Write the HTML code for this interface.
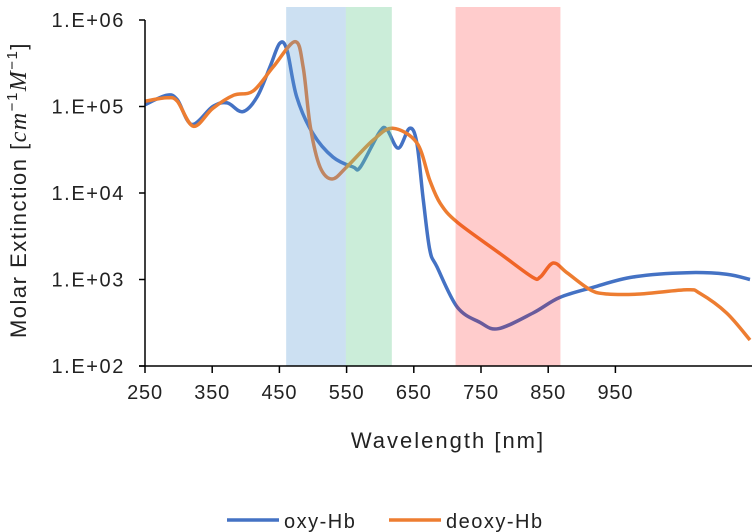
<!DOCTYPE html>
<html><head><meta charset="utf-8"><style>
body{margin:0;background:#fff;width:753px;height:532px;overflow:hidden}
svg{display:block;font-family:"Liberation Sans","Noto Sans CJK JP",sans-serif}
</style></head><body>
<svg id="chart" width="753" height="532">
<g id="bands"></g>
<g id="lines"></g>
<g id="overlay"></g>
<g id="axes"></g>
</svg>
<script>
const wlOxy=[250,277,290,308,334,352,371,389,405,417,426,438,458,483,508,517,541,550,564,578,587,595,603,612,637,665,688,731,764,805,855,922,971,1000];
const valOxy=[105000,135000,120000,62000,100000,110000,87000,129000,288000,537000,447000,129000,49000,26000,20000,20000,51000,54000,33000,56000,38000,8300,2200,1400,480,320,270,410,620,810,1070,1200,1150,1000];
const wlDeoxy=[250,277,290,310,334,360,384,409,436,446,455,467,482,500,533,557,587,603,616,637,690,730,740,756,773,802,823,864,922,938,971,1000];
const valDeoxy=[115000,126000,115000,59000,95000,135000,151000,288000,562000,288000,58000,20000,14500,20000,41000,56000,38000,14000,7600,4600,2000,1070,1070,1550,1200,760,680,680,760,690,410,200];
const bandStart=[425,499,635];
const bandEnd=[499,556,765];
const tickLabels=["250","350","450","550","650","750","850","950"];
const yTickLabels=["1.E+06","1.E+05","1.E+04","1.E+03","1.E+02"];

const NS="http://www.w3.org/2000/svg";
const X0=145,X1=750,Y0=20,Y1=366;
function xs(w){return X0+(w-250)/750*(X1-X0);}
function ys(v){return Y0+(6-Math.log10(v))/4*(Y1-Y0);}
function mk(tag,attrs,parent){const e=document.createElementNS(NS,tag);for(const k in attrs)e.setAttribute(k,attrs[k]);parent.appendChild(e);return e;}
const axes=document.getElementById('axes');
const overlay=document.getElementById('overlay');
const lines=document.getElementById('lines');

function pathFor(wl,vals){
  const p=wl.map((w,i)=>[xs(w),ys(vals[i])]);
  let d="M"+p[0][0].toFixed(1)+","+p[0][1].toFixed(1);
  for(let i=0;i<p.length-1;i++){
    const a=p[Math.max(0,i-1)],b=p[i],c=p[i+1],e=p[Math.min(p.length-1,i+2)];
    const c1=[b[0]+(c[0]-a[0])/6,b[1]+(c[1]-a[1])/6],c2=[c[0]-(e[0]-b[0])/6,c[1]-(e[1]-b[1])/6];
    d+=" C"+c1[0].toFixed(1)+","+c1[1].toFixed(1)+" "+c2[0].toFixed(1)+","+c2[1].toFixed(1)+" "+c[0].toFixed(1)+","+c[1].toFixed(1);
  }
  return d;
}
const pOxy=mk('path',{d:pathFor(wlOxy,valOxy),fill:'none',stroke:'#4472C4','stroke-width':3.5,'stroke-linejoin':'round'},lines);


const pDe=mk('path',{d:pathFor(wlDeoxy,valDeoxy),fill:'none',stroke:'#ED7D31','stroke-width':3.5,'stroke-linejoin':'round'},lines);



const bandColors=['rgba(91,155,213,0.31)','rgba(112,204,150,0.36)','rgba(255,0,0,0.2)'];
const bandNames=['blue-band','green-band','red-band'];
bandStart.forEach((s,i)=>{
  const r=mk('rect',{x:xs(s),y:7,width:xs(bandEnd[i])-xs(s),height:Y1-7,fill:bandColors[i]},overlay);
  
  
});

mk('line',{x1:X0,y1:Y0,x2:X0,y2:Y1,stroke:'#000','stroke-width':1.5},axes);
mk('line',{x1:X0-6,y1:Y1,x2:X1+2,y2:Y1,stroke:'#000','stroke-width':1.5},axes);
yTickLabels.forEach((t,i)=>{
  const y=Y0+i*(Y1-Y0)/4;
  mk('line',{x1:X0-6,y1:y,x2:X0,y2:y,stroke:'#000','stroke-width':1.5},axes);
  const tx=mk('text',{x:125,y:y+7,'text-anchor':'end','font-size':20,'letter-spacing':1.6,fill:'#222'},axes);
  tx.textContent=t;
  
  
});
tickLabels.forEach((t,i)=>{
  const x=X0+i*67.2;
  mk('line',{x1:x,y1:Y1,x2:x,y2:Y1+7,stroke:'#000','stroke-width':1.5},axes);
  const tx=mk('text',{x:x,y:399,'text-anchor':'middle','font-size':20,'letter-spacing':0.8,fill:'#222'},axes);
  tx.textContent=t;
  
  
});
</script>
<svg style="position:absolute;left:0;top:0" width="753" height="532">
<text transform="translate(26,190) rotate(-90)" text-anchor="middle" font-size="22" letter-spacing="1.5" fill="#222" font-family="Liberation Sans, sans-serif">Molar Extinction [<tspan font-style="italic" font-family="Liberation Serif, serif" font-size="24">cm</tspan><tspan font-size="15" dy="-9">−1</tspan><tspan dy="9" font-style="italic" font-family="Liberation Serif, serif" font-size="24">M</tspan><tspan font-size="15" dy="-9">−1</tspan><tspan dy="9">]</tspan></text>
<text x="448" y="448" text-anchor="middle" font-size="22" letter-spacing="2" fill="#222" font-family="Liberation Sans, sans-serif">Wavelength [nm]</text>
<g font-family="Liberation Sans, sans-serif" font-size="20" letter-spacing="1.5" fill="#222">
<line x1="227" y1="520" x2="279" y2="520" stroke="#4472C4" stroke-width="3.5"/>
<text x="284" y="528">oxy-Hb</text>
<line x1="389" y1="520" x2="441" y2="520" stroke="#ED7D31" stroke-width="3.5"/>
<text x="446" y="528">deoxy-Hb</text>
</g>
</svg>
</body></html>
